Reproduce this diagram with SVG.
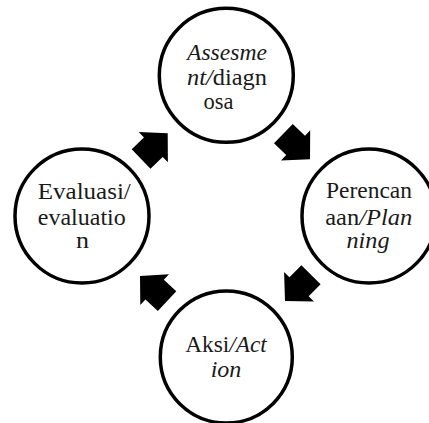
<svg xmlns="http://www.w3.org/2000/svg" width="429" height="423" viewBox="0 0 429 423">
<defs>
<style>
.node circle{fill:#fff;stroke:#000;stroke-width:3.5}
.node text{font-family:'Liberation Serif','Times New Roman',serif;font-size:23px;fill:#1a1a1a;text-anchor:middle}
.it{font-style:italic}
.arr{fill:#000}
</style>
<path id="blk" d="M0,0 L-20,-21 L-20,-13.5 L-37,-13.5 L-37,13.5 L-20,13.5 L-20,21 Z"/>
</defs>
<rect width="429" height="423" fill="#fff"/>
<g id="connectors" class="arr">
<use href="#blk" transform="translate(167.7,133.3) rotate(-44)"/>
<use href="#blk" transform="translate(310,159.3) rotate(44)"/>
<use href="#blk" transform="translate(285,301) rotate(134.6)"/>
<use href="#blk" transform="translate(140,276) rotate(-137)"/>
</g>
<g id="assesment" class="node">
<circle cx="226.3" cy="75.3" r="67"/>
<text x="227" y="59.5" class="it" textLength="80" lengthAdjust="spacingAndGlyphs">Assesme</text>
<text x="227" y="85" textLength="80" lengthAdjust="spacingAndGlyphs"><tspan class="it">nt/</tspan>diagn</text>
<text x="218.5" y="108.5" textLength="30" lengthAdjust="spacingAndGlyphs">osa</text>
</g>
<g id="perencanaan" class="node">
<circle cx="369" cy="216" r="67"/>
<text x="369" y="197.5" textLength="86" lengthAdjust="spacingAndGlyphs">Perencan</text>
<text x="368.7" y="224.5" textLength="87" lengthAdjust="spacingAndGlyphs">aan<tspan class="it">/Plan</tspan></text>
<text x="368" y="247.5" class="it" textLength="43" lengthAdjust="spacingAndGlyphs">ning</text>
</g>
<g id="aksi" class="node">
<circle cx="226.3" cy="357" r="66"/>
<text x="226" y="351.7" textLength="81.7" lengthAdjust="spacingAndGlyphs">Aksi<tspan class="it">/Act</tspan></text>
<text x="226" y="376.7" class="it" textLength="30.7" lengthAdjust="spacingAndGlyphs">ion</text>
</g>
<g id="evaluasi" class="node">
<circle cx="82" cy="216" r="67"/>
<text x="84.3" y="199" textLength="93" lengthAdjust="spacingAndGlyphs">Evaluasi/</text>
<text x="81.8" y="225" textLength="88" lengthAdjust="spacingAndGlyphs">evaluatio</text>
<text x="82.5" y="248.3" textLength="13" lengthAdjust="spacingAndGlyphs">n</text>
</g>
</svg>
